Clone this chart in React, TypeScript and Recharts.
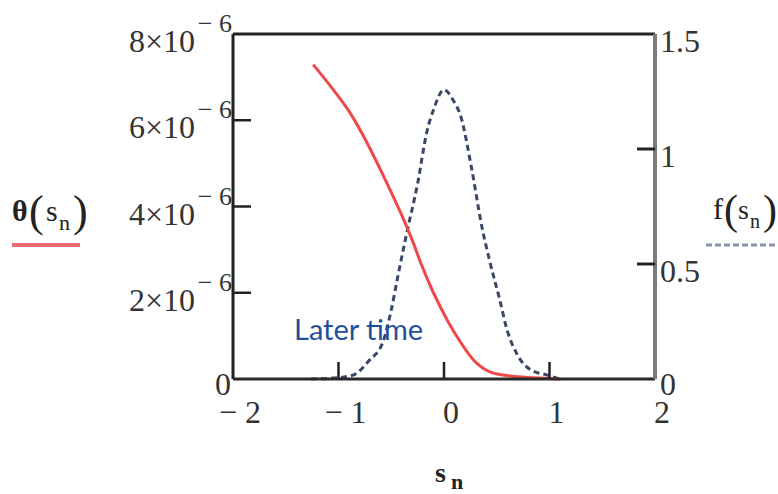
import { LineChart, Line, XAxis, YAxis } from 'recharts';

// theta(s_n), red solid curve, left axis
const thetaS = [-1.24, -1.05, -0.89, -0.73, -0.57, -0.41, -0.29, -0.22, -0.1, 0.03, 0.16, 0.28, 0.44, 0.63, 0.85, 1.1];
const thetaVals = [7.29e-6, 6.71e-6, 6.17e-6, 5.48e-6, 4.69e-6, 3.85e-6, 3.15e-6, 2.69e-6, 2.0e-6, 1.37e-6, 0.84e-6, 0.44e-6, 0.16e-6, 0.07e-6, 0.03e-6, 0];

// f(s_n), dashed curve, right axis
const fS = [-1.26, -1.05, -0.86, -0.71, -0.58, -0.5, -0.44, -0.36, -0.25, -0.16, -0.1, 0, 0.09, 0.16, 0.26, 0.36, 0.44, 0.52, 0.6, 0.69, 0.82, 0.98, 1.1];
const fVals = [0, 0.004, 0.017, 0.08, 0.16, 0.3, 0.44, 0.62, 0.85, 1.08, 1.17, 1.257, 1.21, 1.14, 0.92, 0.66, 0.5, 0.36, 0.21, 0.11, 0.04, 0.017, 0];

const xTicks = [-2, -1, 0, 1, 2];
const leftTicks = [0, 2e-6, 4e-6, 6e-6, 8e-6];
const rightTicks = [0, 0.5, 1, 1.5];

const thetaData = thetaS.map((s, i) => ({ s, theta: thetaVals[i] }));
const fData = fS.map((s, i) => ({ s, f: fVals[i] }));

const SERIF = '"Liberation Serif", "Times New Roman", serif';
const INK = '#333';

const BottomTick = ({ x, y, payload }: any) => {
  const v = payload.value;
  return (
    <g>
      {Math.abs(v) < 2 && <line x1={x} x2={x} y1={y} y2={y - 17} stroke="#222" strokeWidth={2.5} />}
      <text x={x + 7} y={y + 44} textAnchor="middle" fontFamily={SERIF} fontSize={32} fill={INK}>
        {v < 0 ? `− ${Math.abs(v)}` : `${v}`}
      </text>
    </g>
  );
};

const TopTick = ({ x, y, payload }: any) => {
  const v = payload.value;
  if (Math.abs(v) >= 2) return <g />;
  return <line x1={x} x2={x} y1={y} y2={y + 18} stroke="#444" strokeWidth={2} />;
};

const LeftTick = ({ x, y, payload }: any) => {
  const m = Math.round(payload.value * 1e6);
  return (
    <g fontFamily={SERIF} fill={INK}>
      {m > 0 && m < 8 && <line x1={x} x2={x + 18} y1={y} y2={y} stroke="#222" strokeWidth={2.5} />}
      {m === 0 ? (
        <text x={x - 2} y={y + 16} textAnchor="end" fontSize={32}>0</text>
      ) : (
        <>
          <text x={x - 38} y={y + 18} textAnchor="end" fontSize={32}>{`${m}×10`}</text>
          <text x={x - 1} y={y - 2} textAnchor="end" fontSize={26}>− 6</text>
        </>
      )}
    </g>
  );
};

const RightTick = ({ x, y, payload }: any) => {
  const v = payload.value;
  return (
    <g>
      {v > 0 && v < 1.5 && <line x1={x - 18} x2={x} y1={y} y2={y} stroke="#222" strokeWidth={3} />}
      <text x={x + 5} y={y + (v === 0 ? 16 : 18)} textAnchor="start" fontFamily={SERIF} fontSize={32} fill={INK}>
        {`${v}`}
      </text>
    </g>
  );
};

export default function App() {
  return (
    <div style={{ position: 'absolute', left: 0, top: 0, width: 778, height: 494, background: '#fff' }}>
      <LineChart width={778} height={494} margin={{ top: 0, right: 0, bottom: 0, left: 0 }}>
        <XAxis
          xAxisId="b"
          dataKey="s"
          type="number"
          domain={[-2, 2]}
          ticks={xTicks}
          height={115}
          tickSize={0}
          tickMargin={0}
          tickLine={false}
          axisLine={{ stroke: '#2a2a2a', strokeWidth: 3 }}
          tick={<BottomTick />}
          allowDataOverflow
        />
        <XAxis
          xAxisId="t"
          orientation="top"
          type="number"
          domain={[-2, 2]}
          ticks={xTicks}
          height={34}
          tickSize={0}
          tickMargin={0}
          tickLine={false}
          axisLine={{ stroke: '#222', strokeWidth: 3 }}
          tick={<TopTick />}
        />
        <YAxis
          yAxisId="l"
          width={233}
          domain={[0, 8e-6]}
          ticks={leftTicks}
          tickSize={0}
          tickMargin={0}
          tickLine={false}
          axisLine={{ stroke: '#222', strokeWidth: 3 }}
          tick={<LeftTick />}
        />
        <YAxis
          yAxisId="r"
          orientation="right"
          width={123}
          domain={[0, 1.5]}
          ticks={rightTicks}
          tickSize={0}
          tickMargin={0}
          tickLine={false}
          axisLine={{ stroke: '#7a7a7a', strokeWidth: 4 }}
          tick={<RightTick />}
        />
        <Line
          xAxisId="b"
          yAxisId="r"
          data={fData}
          dataKey="f"
          type="monotone"
          stroke="#3a4868"
          strokeWidth={3}
          strokeDasharray="6 4"
          dot={false}
          isAnimationActive={false}
        />
        <Line
          xAxisId="b"
          yAxisId="l"
          data={thetaData}
          dataKey="theta"
          type="monotone"
          stroke="#f04848"
          strokeWidth={3}
          dot={false}
          isAnimationActive={false}
        />
      </LineChart>

      {/* axis titles, legend swatches and the annotation */}
      <svg width={778} height={494} style={{ position: 'absolute', left: 0, top: 0, pointerEvents: 'none' }}>
        <g fontFamily={SERIF} fill="#222">
          <text x={12} y={221} fontSize={30} fontWeight="bold">θ</text>
          <text x={29} y={226} fontSize={44}>(</text>
          <text x={46} y={221} fontSize={30}>s</text>
          <text x={59} y={230} fontSize={22}>n</text>
          <text x={73} y={226} fontSize={44}>)</text>
        </g>
        <line x1={12} x2={80} y1={245} y2={245} stroke="#ea6a72" strokeWidth={4} />

        <g fontFamily={SERIF} fill="#222">
          <text x={713} y={219} fontSize={30}>f</text>
          <text x={724} y={224} fontSize={42}>(</text>
          <text x={738} y={219} fontSize={28}>s</text>
          <text x={750} y={228} fontSize={20}>n</text>
          <text x={763} y={224} fontSize={42}>)</text>
        </g>
        <line x1={706} x2={778} y1={245} y2={245} stroke="#8a92aa" strokeWidth={3} strokeDasharray="6 3" />

        <g fontFamily={SERIF} fill="#222" fontWeight="bold">
          <text x={435} y={482} fontSize={28}>s</text>
          <text x={451} y={489} fontSize={22}>n</text>
        </g>

        <text x={294} y={340} fontFamily="Lato, 'Open Sans', sans-serif" fontSize={29} fill="#1f4f9c">
          Later time
        </text>
      </svg>
    </div>
  );
}
